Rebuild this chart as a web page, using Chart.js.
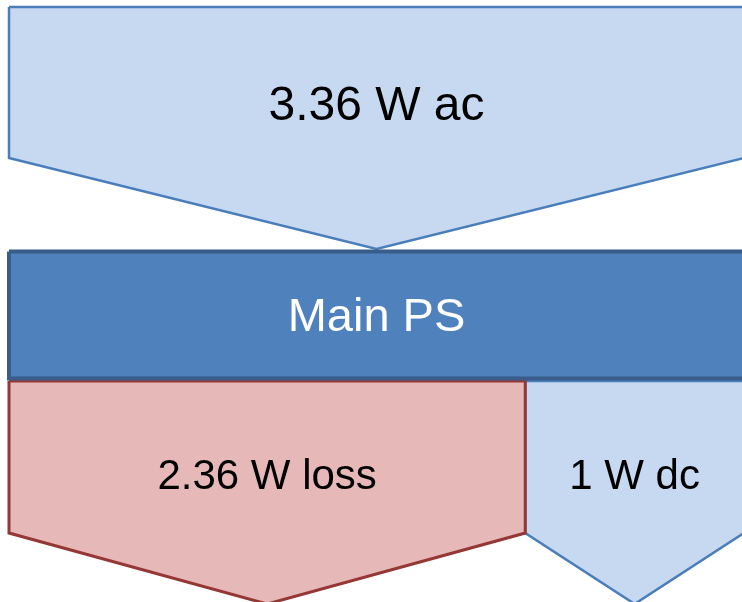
<!DOCTYPE html>
<html>
<head>
<meta charset="utf-8">
<title>Main PS power flow</title>
<script src="https://cdn.jsdelivr.net/npm/chart.js@4.4.1/dist/chart.umd.min.js"></script>
<style>
  html, body { margin: 0; padding: 0; background: #ffffff; }
  #wrap { width: 742px; height: 602px; }
</style>
</head>
<body>
<div id="wrap"><canvas id="flowChart"></canvas></div>
<script>
// Power flow data (watts)
const inputLabel = '3.36 W ac';
const inputWatts = 3.36;
const stageLabel = 'Main PS';
const outputLabels = ['2.36 W loss', '1 W dc'];
const outputWatts = [2.36, 1];

// Vertical layout of the bands (canvas px, y axis runs top-down)
const inTop = 7, inShoulder = 158, inTip = 249;
const barTop = 251.5, barBottom = 378.5;
const outTop = 381, outShoulder = 533, outTip = 604;
const textY = { input: 107, stage: 318, output: 477 };

// horizontal mapping: 0 W at x=9, full input spans ~735px
const pxPerWatt = 735 / inputWatts;
const xMin = -9 / pxPerWatt;
const xMax = (742 - 9) / pxPerWatt;

function arrow(x0, x1, top, shoulder, tip) {
  const mid = (x0 + x1) / 2;
  return [
    { x: x0, y: top }, { x: x1, y: top }, { x: x1, y: shoulder },
    { x: mid, y: tip }, { x: x0, y: shoulder }, { x: x0, y: top }
  ];
}

// stack the outputs left to right
const outputStarts = [];
let acc = 0;
outputWatts.forEach(w => { outputStarts.push(acc); acc += w; });

const outFill = ['#E6B9B8', '#C6D9F1'];
const outBorder = ['#953735', '#4A7EBB'];

const datasets = [
  {
    label: stageLabel,
    data: [
      { x: 0, y: barTop }, { x: inputWatts, y: barTop },
      { x: inputWatts, y: barBottom }, { x: 0, y: barBottom }, { x: 0, y: barTop }
    ],
    backgroundColor: '#4F81BD',
    borderColor: '#385D8A',
    borderWidth: 4
  },
  ...outputWatts.map((w, i) => ({
    label: outputLabels[i],
    data: arrow(outputStarts[i], outputStarts[i] + w, outTop, outShoulder, outTip),
    backgroundColor: outFill[i],
    borderColor: outBorder[i],
    borderWidth: i === 0 ? 3 : 2.5
  })),
  {
    label: inputLabel,
    data: arrow(0, inputWatts, inTop, inShoulder, inTip),
    backgroundColor: '#C6D9F1',
    borderColor: '#4A7EBB',
    borderWidth: 2.5
  }
].map(ds => Object.assign(ds, {
  showLine: true,
  fill: 'shape',
  tension: 0,
  pointRadius: 0,
  pointHoverRadius: 0,
  borderJoinStyle: 'miter',
  clip: 0
}));

// band labels placed through the x scale
const labelPlugin = {
  id: 'bandLabels',
  afterDatasetsDraw(chart) {
    const { ctx, scales: { x, y } } = chart;
    ctx.save();
    ctx.textAlign = 'center';
    ctx.textBaseline = 'middle';
    ctx.font = '48px "Liberation Sans", Arial, sans-serif';
    ctx.fillStyle = '#000000';
    ctx.fillText(inputLabel, x.getPixelForValue(inputWatts / 2), y.getPixelForValue(textY.input));
    ctx.font = '47px "Liberation Sans", Arial, sans-serif';
    ctx.fillStyle = '#ffffff';
    ctx.fillText(stageLabel, x.getPixelForValue(inputWatts / 2), y.getPixelForValue(textY.stage));
    ctx.font = '42px "Liberation Sans", Arial, sans-serif';
    ctx.fillStyle = '#000000';
    outputWatts.forEach((w, i) => {
      ctx.fillText(outputLabels[i], x.getPixelForValue(outputStarts[i] + w / 2), y.getPixelForValue(textY.output));
    });
    ctx.restore();
  }
};

const ctx = document.getElementById('flowChart').getContext('2d');
new Chart(ctx, {
  type: 'scatter',
  data: { datasets: datasets },
  options: {
    responsive: true,
    maintainAspectRatio: false,
    animation: false,
    layout: { padding: 0 },
    scales: {
      x: { type: 'linear', min: xMin, max: xMax, display: false },
      y: { type: 'linear', min: 0, max: 602, reverse: true, display: false }
    },
    plugins: {
      legend: { display: false },
      tooltip: { enabled: false }
    }
  },
  plugins: [labelPlugin]
});
</script>
</body>
</html>
